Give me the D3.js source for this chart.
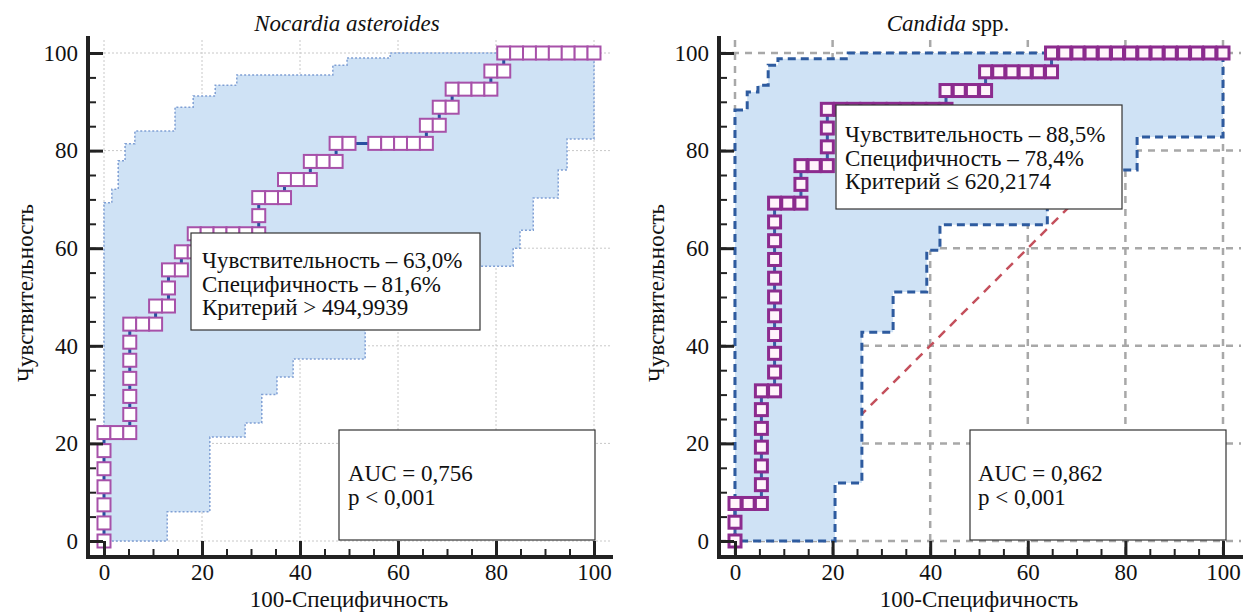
<!DOCTYPE html>
<html>
<head>
<meta charset="utf-8">
<script src="https://cdn.jsdelivr.net/npm/d3@7"></script>
<style>
  body { margin: 0; background: #fff; }
</style>
</head>
<body>
<div id="chart"></div>
<script>
// ---- data ----
const axisTicks = [0, 20, 40, 60, 80, 100];
const minorTicks = d3.range(0, 101, 5);

// Nocardia asteroides: ROC points (100-Specificity, Sensitivity)
const nocardiaFpr = [0, 0, 0, 0, 0, 0, 0, 2.63, 5.26, 5.26, 5.26, 5.26, 5.26, 5.26, 5.26,
  7.89, 10.53, 10.53, 13.16, 13.16, 13.16, 15.79, 15.79, 18.42, 18.42,
  21.05, 23.68, 26.32, 28.95, 31.58, 31.58, 31.58, 34.21, 36.84, 36.84,
  39.47, 42.11, 42.11, 44.74, 47.37, 47.37, 50.0, 55.26, 57.89, 60.53, 63.16,
  65.79, 65.79, 68.42, 68.42, 71.05, 71.05, 73.68, 76.32, 78.95, 78.95, 81.58, 81.58,
  84.21, 86.84, 89.47, 92.11, 94.74, 97.37, 100];
const nocardiaTpr = [0, 3.70, 7.41, 11.11, 14.81, 18.52, 22.22, 22.22, 22.22, 25.93, 29.63, 33.33, 37.04, 40.74, 44.44,
  44.44, 44.44, 48.15, 48.15, 51.85, 55.56, 55.56, 59.26, 59.26, 62.96,
  62.96, 62.96, 62.96, 62.96, 62.96, 66.67, 70.37, 70.37, 70.37, 74.07,
  74.07, 74.07, 77.78, 77.78, 77.78, 81.48, 81.48, 81.48, 81.48, 81.48, 81.48,
  81.48, 85.19, 85.19, 88.89, 88.89, 92.59, 92.59, 92.59, 92.59, 96.30, 96.30, 100,
  100, 100, 100, 100, 100, 100, 100];
// confidence band (step edges)
const nocardiaUpperX = [0, 1.6, 2.9, 4.3, 6.3, 14.5, 18.2, 22.7, 27.1, 46.7, 49.6, 58.4, 100];
const nocardiaUpperY = [69.3, 72.1, 77.9, 81.4, 84.0, 88.9, 91.2, 93.4, 95.5, 97.5, 99.0, 100, 100];
const nocardiaLowerX = [0, 12.9, 21.6, 28.8, 32.2, 35.3, 38.6, 53.3, 83.5, 84.9, 87.6, 92.7, 94.5, 100];
const nocardiaLowerY = [0, 6.0, 21.3, 24.2, 30.0, 33.6, 37.3, 56.3, 60.0, 63.7, 70.3, 76.0, 82.4, 82.4];
const nocardiaStats = ["Чувствительность – 63,0%", "Специфичность – 81,6%", "Критерий > 494,9939"];
const nocardiaAuc = ["AUC = 0,756", "p < 0,001"];

// Candida spp.
const candidaFpr = [0, 0, 0, 2.70, 5.41, 5.41, 5.41, 5.41, 5.41, 5.41, 5.41,
  8.11, 8.11, 8.11, 8.11, 8.11, 8.11, 8.11, 8.11, 8.11, 8.11, 8.11,
  10.81, 13.51, 13.51, 13.51, 16.22, 18.92, 18.92, 18.92, 18.92,
  21.62, 24.32, 27.03, 29.73, 32.43, 35.14, 37.84, 40.54, 43.24, 43.24,
  45.95, 48.65, 51.35, 51.35, 54.05, 56.76, 59.46, 62.16, 64.86, 64.86,
  67.57, 70.27, 72.97, 75.68, 78.38, 81.08, 83.78, 86.49, 89.19, 91.89, 94.59, 97.30, 100];
const candidaTpr = [0, 3.85, 7.69, 7.69, 7.69, 11.54, 15.38, 19.23, 23.08, 26.92, 30.77,
  30.77, 34.62, 38.46, 42.31, 46.15, 50.0, 53.85, 57.69, 61.54, 65.38, 69.23,
  69.23, 69.23, 73.08, 76.92, 76.92, 76.92, 80.77, 84.62, 88.46,
  88.46, 88.46, 88.46, 88.46, 88.46, 88.46, 88.46, 88.46, 88.46, 92.31,
  92.31, 92.31, 92.31, 96.15, 96.15, 96.15, 96.15, 96.15, 96.15, 100,
  100, 100, 100, 100, 100, 100, 100, 100, 100, 100, 100, 100, 100];
const candidaUpperX = [0, 2.5, 4.7, 6.8, 8.8, 23.2, 100];
const candidaUpperY = [88.3, 92.0, 93.4, 97.5, 98.8, 100, 100];
const candidaLowerX = [0, 20.5, 26.0, 32.4, 39.3, 42.0, 64.0, 82.4, 100];
const candidaLowerY = [0, 11.9, 42.8, 51.0, 59.6, 64.8, 76.0, 82.8, 82.8];
const candidaStats = ["Чувствительность – 88,5%", "Специфичность – 78,4%", "Критерий ≤ 620,2174"];
const candidaAuc = ["AUC = 0,862", "p < 0,001"];

const W = 1243, H = 614;
const FONT = 23;
const SERIF = "'Liberation Serif', 'Times New Roman', Tinos, 'DejaVu Serif', 'Noto Serif', serif";

const svg = d3.select("#chart").append("svg")
  .attr("width", W).attr("height", H)
  .style("background", "#fff");

// step edge -> list of vertices
function stepVerts(xs, ys) {
  const pts = [[xs[0], ys[0]]];
  for (let k = 1; k < xs.length; k++) {
    pts.push([xs[k], ys[k - 1]]);
    pts.push([xs[k], ys[k]]);
  }
  return pts;
}

function label(sel) {
  return sel.attr("font-family", SERIF).style("font-family", SERIF)
    .attr("font-size", FONT).attr("fill", "#111");
}

function drawPanel(p) {
  const x = d3.scaleLinear().domain([0, 100]).range([p.left, p.right]);
  const y = d3.scaleLinear().domain([0, 100]).range([541, 53]);
  const axisX = p.left - 16, axisY = 557, top = 36;
  const g = svg.append("g");

  // grid
  const grid = g.append("g")
    .attr("stroke", p.gridColor)
    .attr("stroke-width", p.gridWidth)
    .attr("stroke-dasharray", p.gridDash);
  grid.selectAll(".gv").data(axisTicks).enter().append("line")
    .attr("x1", d => x(d)).attr("x2", d => x(d))
    .attr("y1", top + 4).attr("y2", axisY);
  grid.selectAll(".gh").data(axisTicks).enter().append("line")
    .attr("x1", axisX).attr("x2", p.frameRight)
    .attr("y1", d => y(d)).attr("y2", d => y(d));

  // reference diagonal
  if (p.diagonal) {
    g.append("line")
      .attr("x1", x(0)).attr("y1", y(0)).attr("x2", x(100)).attr("y2", y(100))
      .attr("stroke", "#c4505c").attr("stroke-width", 2.5)
      .attr("stroke-dasharray", "9,7");
  }

  // confidence band
  const upper = stepVerts(p.upperX, p.upperY);
  const lower = stepVerts(p.lowerX, p.lowerY).reverse();
  const band = upper.concat(lower);
  const line = d3.line().x(d => x(d[0])).y(d => y(d[1]));
  g.append("path")
    .attr("d", line(band) + "Z")
    .attr("fill", "#cfe2f5");
  g.append("path")
    .attr("d", line(band) + "Z")
    .attr("fill", "none")
    .attr("stroke", p.bandStroke)
    .attr("stroke-width", p.bandWidth)
    .attr("stroke-dasharray", p.bandDash);

  // ROC curve
  const pts = p.fpr.map((d, i) => [d, p.tpr[i]]);
  g.append("path")
    .attr("d", line(pts))
    .attr("fill", "none")
    .attr("stroke", p.lineColor)
    .attr("stroke-width", 3);
  const s = p.markerSize;
  g.selectAll(".m").data(pts).enter().append("rect")
    .attr("x", d => x(d[0]) - s / 2)
    .attr("y", d => y(d[1]) - s / 2)
    .attr("width", s).attr("height", s)
    .attr("fill", p.markerFill)
    .attr("stroke", p.markerColor)
    .attr("stroke-width", p.markerStroke);

  // axes
  const yAxis = g.append("g").attr("transform", `translate(${axisX},0)`)
    .call(d3.axisLeft(y).tickValues(axisTicks).tickSize(-15).tickPadding(10).tickSizeOuter(0));
  const yMinor = g.append("g").attr("transform", `translate(${axisX},0)`)
    .call(d3.axisLeft(y).tickValues(minorTicks).tickSize(-8).tickFormat("").tickSizeOuter(0));
  const xAxis = g.append("g").attr("transform", `translate(0,${axisY})`)
    .call(d3.axisBottom(x).tickValues(axisTicks).tickSize(-16).tickPadding(7).tickSizeOuter(0));
  const xMinor = g.append("g").attr("transform", `translate(0,${axisY})`)
    .call(d3.axisBottom(x).tickValues(minorTicks).tickSize(-8).tickFormat("").tickSizeOuter(0));
  [yAxis, yMinor, xAxis, xMinor].forEach(a => {
    a.attr("font-family", SERIF);
    a.select(".domain").remove();
    a.selectAll("line").attr("stroke", "#222").attr("stroke-width", 3);
    label(a.selectAll("text"));
  });
  yMinor.selectAll("line").attr("stroke-width", 2);
  xMinor.selectAll("line").attr("stroke-width", 2);
  g.append("line").attr("x1", axisX).attr("x2", axisX).attr("y1", top).attr("y2", axisY + 2)
    .attr("stroke", "#222").attr("stroke-width", 4);
  g.append("line").attr("x1", axisX - 2).attr("x2", p.axisRight).attr("y1", axisY).attr("y2", axisY)
    .attr("stroke", "#222").attr("stroke-width", 4);

  // titles
  const t = label(g.append("text")).attr("x", p.titleX).attr("y", 31)
    .attr("text-anchor", "middle");
  p.title.forEach(part => t.append("tspan").attr("font-style", part[1] ? "italic" : "normal").text(part[0]));
  label(g.append("text"))
    .attr("transform", `translate(${axisX - 55},${293}) rotate(-90)`)
    .attr("text-anchor", "middle")
    .text("Чувствительность");
  label(g.append("text")).attr("x", (x(0) + x(100)) / 2).attr("y", 607)
    .attr("text-anchor", "middle")
    .text("100-Специфичность");

  // boxes
  function box(b, lines) {
    g.append("rect").attr("x", b[0]).attr("y", b[1]).attr("width", b[2]).attr("height", b[3])
      .attr("fill", "#fff").attr("stroke", "#333").attr("stroke-width", 1.2);
    lines.forEach((l, i) => label(g.append("text"))
      .attr("x", b[0] + b[4]).attr("y", b[1] + b[5] + i * b[6])
      .text(l));
  }
  box(p.statsBox, p.stats);
  box(p.aucBox, p.auc);
}

drawPanel({
  left: 104, right: 594, frameRight: 612, axisRight: 613, titleX: 347,
  title: [["Nocardia asteroides", true]],
  gridColor: "#c8c8c8", gridWidth: 1, gridDash: "2,2",
  diagonal: false,
  upperX: nocardiaUpperX, upperY: nocardiaUpperY, lowerX: nocardiaLowerX, lowerY: nocardiaLowerY,
  bandStroke: "#7f9fd4", bandWidth: 1.5, bandDash: "2,2",
  fpr: nocardiaFpr, tpr: nocardiaTpr,
  lineColor: "#2850a0", markerSize: 13, markerStroke: 2, markerColor: "#a751a9", markerFill: "#fff",
  stats: nocardiaStats, statsBox: [191, 233, 289, 97, 11, 35, 23.5],
  auc: nocardiaAuc, aucBox: [339, 430, 256, 110, 9, 51, 24]
});

drawPanel({
  left: 735, right: 1223, frameRight: 1241, axisRight: 1243, titleX: 948,
  title: [["Candida", true], [" spp.", false]],
  gridColor: "#a8a8a8", gridWidth: 2.5, gridDash: "7,6",
  diagonal: true,
  upperX: candidaUpperX, upperY: candidaUpperY, lowerX: candidaLowerX, lowerY: candidaLowerY,
  bandStroke: "#2e5b9f", bandWidth: 3, bandDash: "8,5",
  fpr: candidaFpr, tpr: candidaTpr,
  lineColor: "#3a5ca6", markerSize: 12, markerStroke: 3, markerColor: "#8c2b8e", markerFill: "#fff4fb",
  stats: candidaStats, statsBox: [836, 105, 286, 104, 9, 37, 23.5],
  auc: candidaAuc, aucBox: [970, 430, 256, 110, 8, 51, 24]
});
</script>
</body>
</html>
